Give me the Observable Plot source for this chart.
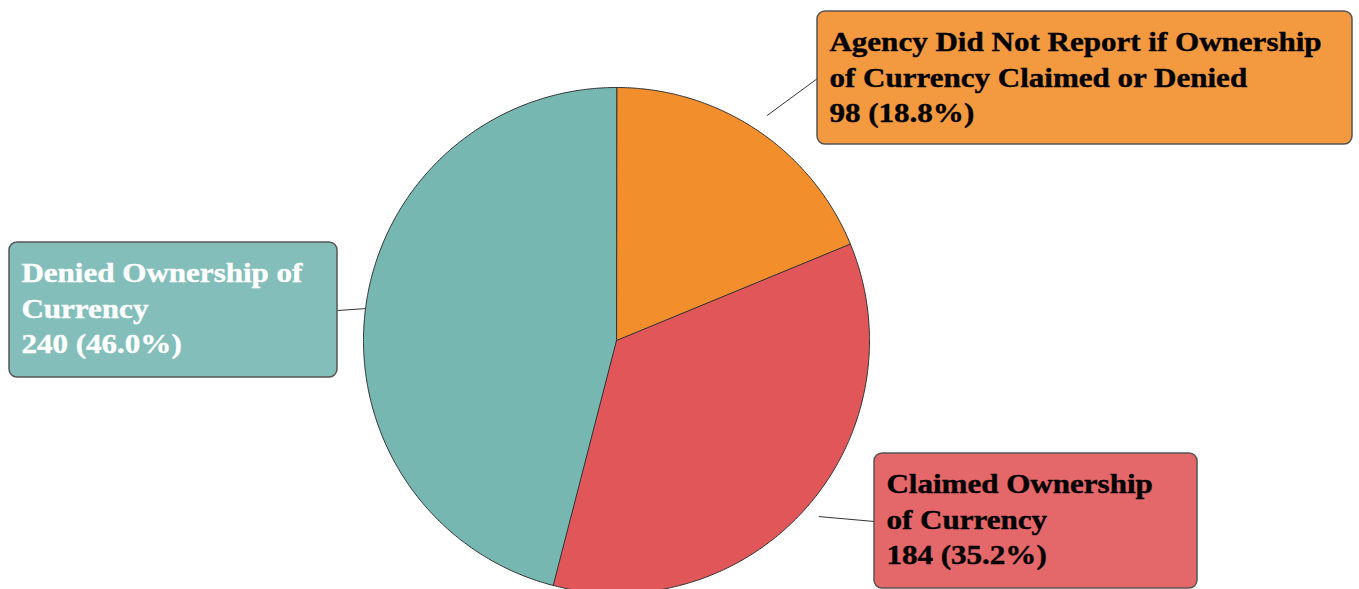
<!DOCTYPE html>
<html>
<head>
<meta charset="utf-8">
<script src="https://cdn.jsdelivr.net/npm/d3@7"></script>
<script src="https://cdn.jsdelivr.net/npm/@observablehq/plot@0.6"></script>
<style>
  html, body { margin: 0; padding: 0; background: #fff; overflow: hidden; }
  #chart svg { overflow: hidden; display: block; }
</style>
</head>
<body>
<div id="chart"></div>
<script>
// ---- Data ----
const categories = [
  "Agency Did Not Report if Ownership of Currency Claimed or Denied",
  "Claimed Ownership of Currency",
  "Denied Ownership of Currency"
];
const labelLines = [
  "Agency Did Not Report if Ownership\nof Currency Claimed or Denied",
  "Claimed Ownership\nof Currency",
  "Denied Ownership of\nCurrency"
];
const counts = [98, 184, 240];
const colors = ["#F28E2B", "#E15759", "#76B7B2"];
const textColors = ["black", "black", "white"];

// ---- Layout (pixels) ----
const W = 1359, H = 589;
const cx = 616, cy = 340, R = 253;
const textStretch = 1.15;
const boxes = [
  {x1: 817, y1: 11, x2: 1352, y2: 144, lineR: 1.07, ax: 817, ay: 78},
  {x1: 874, y1: 453, x2: 1197, y2: 588, lineR: 1.06, ax: 874, ay: 521},
  {x1: 9, y1: 242, x2: 337, y2: 377, lineR: 1.0, ax: 337, ay: 310}
];

const total = d3.sum(counts);
let acc = 0;
const slices = categories.map((c, i) => {
  const a0 = acc / total * 2 * Math.PI;
  acc += counts[i];
  const a1 = acc / total * 2 * Math.PI;
  return {category: c, i, a0, a1, mid: (a0 + a1) / 2};
});

// polygon points for each slice, derived from the data angles
const slicePts = [];
for (const s of slices) {
  slicePts.push({category: s.category, x: cx, y: cy});
  const n = Math.max(2, Math.ceil((s.a1 - s.a0) / (Math.PI / 360)));
  for (let k = 0; k <= n; k++) {
    const a = s.a0 + (s.a1 - s.a0) * k / n;
    slicePts.push({category: s.category, x: cx + R * Math.sin(a), y: cy - R * Math.cos(a)});
  }
}

const labels = slices.map(s => {
  const b = boxes[s.i];
  const pct = (counts[s.i] / total * 100).toFixed(1);
  return {
    category: s.category,
    ...b,
    sx: cx + R * b.lineR * Math.sin(s.mid),
    sy: cy - R * b.lineR * Math.cos(s.mid),
    tx: b.x1 + 12,
    ty: b.y1 + 15,
    text: `${labelLines[s.i]}\n${counts[s.i]} (${pct}%)`,
    textColor: textColors[s.i]
  };
});

const font = "'Liberation Serif', 'Times New Roman', serif";

const textOpts = (color) => ({
  x: "tx", y: "ty", text: "text",
  textAnchor: "start", lineAnchor: "top", lineHeight: 1.3,
  fontSize: 27, fontWeight: "bold", fontFamily: font,
  fill: color, stroke: color, strokeWidth: 0.4
});

const chart = Plot.plot({
  width: W,
  height: H,
  margin: 0,
  x: {domain: [0, W], range: [0, W], axis: null},
  y: {domain: [0, H], range: [0, H], axis: null},
  color: {domain: categories, range: colors},
  style: {background: "white"},
  marks: [
    Plot.line(slicePts, {
      x: "x", y: "y", z: "category", fill: "category",
      stroke: "#333", strokeWidth: 1, curve: "linear-closed"
    }),
    Plot.link(labels, {
      x1: "sx", y1: "sy", x2: "ax", y2: "ay",
      stroke: "#333", strokeWidth: 1
    }),
    Plot.rect(labels, {
      x1: "x1", x2: "x2", y1: "y1", y2: "y2",
      fill: "category", fillOpacity: 0.9,
      stroke: "#555", strokeWidth: 1.5, rx: 8
    }),
    Plot.text(labels.filter(d => d.textColor === "black"), textOpts("black")),
    Plot.text(labels.filter(d => d.textColor === "white"), textOpts("white"))
  ]
});
document.getElementById("chart").append(chart);

// Widen the label glyphs horizontally (reference text is stretched), anchored at each text's left edge
const svgLeft = chart.getBoundingClientRect().left;
d3.select(chart).selectAll("text").each(function () {
  const bx = this.getBoundingClientRect().left - svgLeft;
  const existing = this.getAttribute("transform") || "";
  this.setAttribute("transform",
    `translate(${bx * (1 - textStretch)},0) scale(${textStretch},1) ${existing}`);
});
</script>
</body>
</html>
